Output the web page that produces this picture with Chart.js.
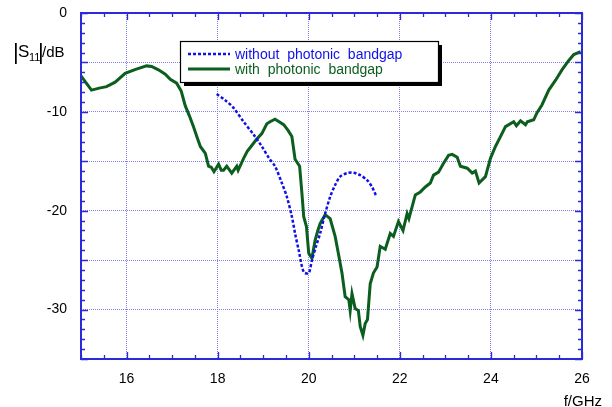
<!DOCTYPE html>
<html>
<head>
<meta charset="utf-8">
<script src="https://cdn.jsdelivr.net/npm/chart.js@4/dist/chart.umd.min.js"></script>
<style>
  html, body { margin: 0; padding: 0; background: #fff; }
  #wrap { width: 612px; height: 407px; position: relative; }
</style>
</head>
<body>
<div id="wrap"><canvas id="c" width="612" height="407"></canvas></div>
<script>
// Reflection coefficient |S11| (dB) versus frequency (GHz)
const freqWith = [15.00,15.10,15.23,15.40,15.56,15.75,15.97,16.20,16.44,16.55,16.70,16.85,16.96,17.10,17.20,17.29,17.38,17.47,17.55,17.62,17.73,17.80,17.86,17.92,18.02,18.08,18.13,18.20,18.31,18.42,18.45,18.52,18.57,18.65,18.75,18.85,18.97,19.08,19.15,19.26,19.35,19.45,19.55,19.63,19.70,19.80,19.85,19.89,19.95,20.00,20.07,20.14,20.20,20.25,20.36,20.47,20.58,20.65,20.73,20.80,20.88,20.91,20.95,21.02,21.09,21.13,21.19,21.24,21.29,21.35,21.42,21.50,21.57,21.68,21.79,21.86,21.97,22.07,22.16,22.20,22.34,22.45,22.56,22.67,22.74,22.85,22.96,23.07,23.15,23.26,23.33,23.48,23.59,23.66,23.74,23.88,23.99,24.10,24.21,24.32,24.50,24.56,24.65,24.76,24.80,24.94,25.01,25.12,25.27,25.42,25.56,25.71,25.82,25.97];
const s11With = [-6.35,-7.0,-7.8,-7.6,-7.45,-7.0,-6.1,-5.7,-5.35,-5.4,-5.75,-6.2,-6.7,-7.1,-7.9,-9.4,-10.4,-11.5,-12.6,-13.5,-14.2,-15.5,-15.6,-16.05,-15.3,-15.9,-15.9,-15.5,-16.2,-15.5,-15.9,-15.2,-14.7,-14.0,-13.4,-12.8,-12.2,-11.2,-11.0,-10.75,-11.0,-11.3,-11.9,-12.5,-14.8,-15.5,-18.2,-20.6,-21.6,-24.3,-24.8,-23.0,-22.0,-21.3,-20.4,-20.8,-22.6,-24.3,-26.3,-28.7,-29.0,-30.1,-28.4,-29.9,-30.1,-31.7,-32.6,-31.4,-31.0,-27.4,-26.3,-25.7,-23.6,-23.9,-22.3,-22.6,-21.1,-22.0,-20.3,-20.8,-18.4,-18.1,-17.6,-17.2,-16.4,-16.1,-15.2,-14.4,-14.3,-14.6,-15.5,-15.7,-16.2,-16.0,-17.2,-16.55,-14.7,-13.5,-12.5,-11.5,-11.0,-11.4,-10.9,-11.3,-11.0,-10.8,-10.1,-9.3,-7.8,-6.8,-5.75,-4.8,-4.2,-3.9];

const freqWithout = [17.98,18.16,18.35,18.57,18.79,18.97,19.13,19.26,19.41,19.52,19.63,19.70,19.78,19.89,20.00,20.07,20.16,20.25,20.36,20.47,20.58,20.69,20.84,20.98,21.13,21.28,21.39,21.48];
const s11Without = [-8.2,-8.8,-9.6,-11.0,-12.3,-13.5,-14.7,-15.5,-17.2,-18.6,-20.6,-22.3,-24.0,-26.2,-26.3,-25.0,-23.6,-22.3,-20.3,-18.6,-17.4,-16.55,-16.2,-16.15,-16.4,-16.9,-17.6,-18.5];

const xTickLabels = [16, 18, 20, 22, 24, 26];
const yTickLabels = [0, -10, -20, -30];
const seriesNames = ['without  photonic  bandgap', 'with  photonic  bandgap'];

const BLUE = '#1010e8';
const GREEN = '#0b5e1e';
const AXIS = '#2a2ad8';
const GRID = '#8080f0';
const FONT = '"Liberation Sans", Arial, Helvetica, sans-serif';

const toPoints = (xs, ys) => xs.map((x, i) => ({ x, y: ys[i] }));
const isMajorX = v => Math.abs(v % 2) < 1e-9;
const isMajorY = v => Math.abs(v % 5) < 1e-9;

// Inward tick marks on all four sides, frame, axis titles and boxed legend
const decorations = {
  id: 'decorations',
  afterDraw(chart) {
    const { ctx, chartArea: a, scales } = chart;
    ctx.save();
    ctx.strokeStyle = AXIS;
    ctx.lineWidth = 1.3;
    ctx.beginPath();
    scales.x.ticks.forEach(t => {
      const tl = isMajorX(t.value) ? 7 : 4;
      const px = Math.round(scales.x.getPixelForValue(t.value)) + 0.5;
      ctx.moveTo(px, a.bottom); ctx.lineTo(px, a.bottom - tl);
      ctx.moveTo(px, a.top); ctx.lineTo(px, a.top + tl);
    });
    scales.y.ticks.forEach(t => {
      const tl = isMajorY(t.value) ? 7 : 4;
      const py = Math.round(scales.y.getPixelForValue(t.value)) + 0.5;
      ctx.moveTo(a.left, py); ctx.lineTo(a.left + tl, py);
      ctx.moveTo(a.right, py); ctx.lineTo(a.right - tl, py);
    });
    ctx.stroke();
    ctx.lineWidth = 2;
    ctx.strokeRect(a.left, a.top, a.right - a.left, a.bottom - a.top);

    // y axis title |S11|/dB
    ctx.fillStyle = '#000';
    ctx.textBaseline = 'alphabetic';
    ctx.textAlign = 'left';
    ctx.font = '22px ' + FONT;
    ctx.fillText('|', 13, 59);
    ctx.font = '17px ' + FONT;
    ctx.fillText('S', 18, 57);
    ctx.font = '11px ' + FONT;
    ctx.fillText('11', 29, 61);
    ctx.font = '22px ' + FONT;
    ctx.fillText('|', 38, 59);
    ctx.font = '15px ' + FONT;
    ctx.fillText('/dB', 42, 57);

    // x axis title
    ctx.font = '15px ' + FONT;
    ctx.textAlign = 'right';
    ctx.fillText('f/GHz', 602, 406);

    // legend box with drop shadow
    const bx = 180, by = 41, bw = 258, bh = 41;
    ctx.fillStyle = '#000';
    ctx.fillRect(bx + 4, by + 4, bw, bh);
    ctx.fillStyle = '#fff';
    ctx.fillRect(bx, by, bw, bh);
    ctx.lineWidth = 1.2;
    ctx.strokeStyle = '#000';
    ctx.strokeRect(bx + 0.5, by + 0.5, bw, bh);

    chart.data.datasets.forEach((ds, i) => {
      const ly = by + 13 + i * 15;
      ctx.beginPath();
      ctx.strokeStyle = ds.borderColor;
      ctx.lineWidth = ds.borderWidth;
      ctx.setLineDash(ds.borderDash || []);
      ctx.moveTo(188, ly); ctx.lineTo(230, ly);
      ctx.stroke();
      ctx.setLineDash([]);
      ctx.fillStyle = ds.borderColor;
      ctx.font = '14px ' + FONT;
      ctx.textAlign = 'left';
      ctx.textBaseline = 'middle';
      ctx.fillText(ds.label, 235, ly + 1);
    });
    ctx.restore();
  }
};

new Chart(document.getElementById('c'), {
  type: 'scatter',
  data: {
    datasets: [
      {
        label: seriesNames[0],
        data: toPoints(freqWithout, s11Without),
        showLine: true,
        borderColor: BLUE,
        borderWidth: 2.5,
        borderDash: [3, 2],
        tension: 0.3,
        pointRadius: 0
      },
      {
        label: seriesNames[1],
        data: toPoints(freqWith, s11With),
        showLine: true,
        borderColor: GREEN,
        borderWidth: 3,
        tension: 0,
        pointRadius: 0
      }
    ]
  },
  options: {
    responsive: false,
    animation: false,
    layout: { padding: { top: 13, right: 30, left: 0, bottom: 0 } },
    plugins: { legend: { display: false }, tooltip: { enabled: false } },
    scales: {
      x: {
        type: 'linear',
        min: 15, max: 26,
        afterFit: s => { s.height = 48; s.paddingLeft = 0; s.paddingRight = 0; },
        ticks: {
          stepSize: 0.5,
          autoSkip: false,
          maxRotation: 0,
          padding: 12,
          color: '#000',
          font: { family: FONT, size: 14 },
          callback: v => xTickLabels.includes(v) ? String(v) : ''
        },
        grid: {
          drawTicks: false,
          lineWidth: 1,
          color: c => (c.tick && xTickLabels.includes(c.tick.value) && c.tick.value < 26) ? GRID : 'rgba(0,0,0,0)'
        },
        border: { display: false, dash: [1, 1] }
      },
      y: {
        type: 'linear',
        min: -35, max: 0,
        afterFit: s => { s.width = 81; s.paddingTop = 0; s.paddingBottom = 0; },
        ticks: {
          stepSize: 1,
          autoSkip: false,
          padding: 14,
          color: '#000',
          font: { family: FONT, size: 14 },
          callback: v => yTickLabels.includes(v) ? String(v) : ''
        },
        grid: {
          drawTicks: false,
          lineWidth: 1,
          color: c => (c.tick && isMajorY(c.tick.value) && c.tick.value > -35 && c.tick.value < 0) ? GRID : 'rgba(0,0,0,0)'
        },
        border: { display: false, dash: [1, 1] }
      }
    }
  },
  plugins: [decorations]
});
</script>
</body>
</html>
